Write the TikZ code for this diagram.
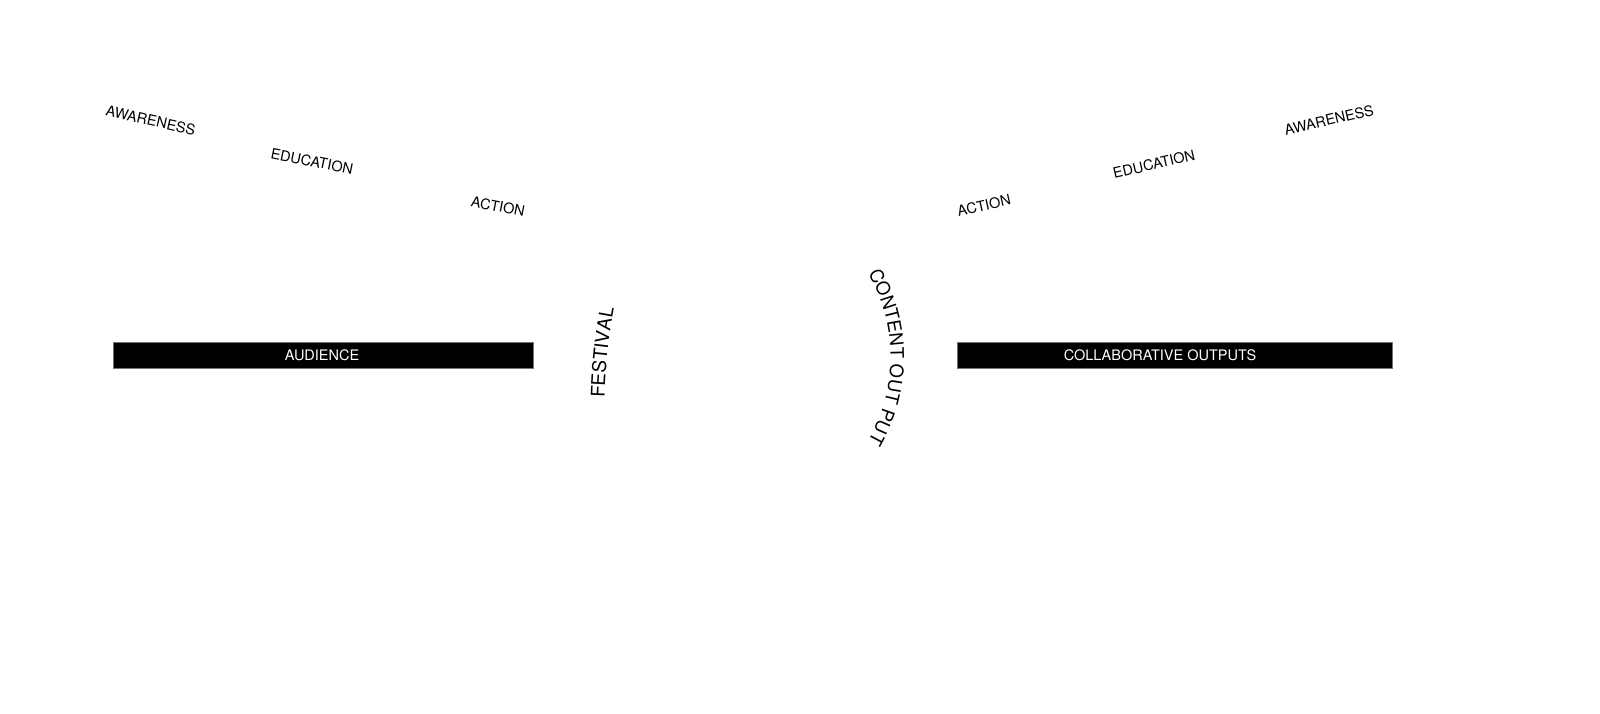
\documentclass[tikz,border=0pt]{standalone}
\usepackage{fontspec}
\setmainfont{TeX Gyre Heros}
\usetikzlibrary{decorations.text}
\newcommand{\wordfont}{\fontsize{14.5}{17}\selectfont}
\newcommand{\arcfontA}{\fontsize{18.5}{22}\selectfont}
\newcommand{\arcfontB}{\fontsize{19}{23}\selectfont}
\tikzset{
  word/.style={font=\wordfont, inner sep=0pt, text=black},
  bar/.style={fill=black, draw=black!55, line width=0.6pt, inner sep=0pt},
  bartext/.style={font=\wordfont, text=white, inner sep=0pt},
}
\begin{document}
\begin{tikzpicture}[x=1pt,y=1pt]
\useasboundingbox (0,0) rectangle (1600,714);
% bars
\draw[bar] (113,346) rectangle (533,372);
\node[bartext] (audience) at (322,359) {AUDIENCE};
\draw[bar] (957,346) rectangle (1392,372);
\node[bartext] (collab) at (1160,359) {COLLABORATIVE OUTPUTS};
% left words
\node[word, rotate=-12.5] (awl) at (150.7,593.7) {AWARENESS};
\node[word, rotate=-11.5] (edl) at (312,552.7) {EDUCATION};
\node[word, rotate=-11] (acl) at (498,507.7) {ACTION};
% right words
\node[word, rotate=12.5] (acr) at (984,508.7) {ACTION};
\node[word, rotate=13] (edr) at (1154,550) {EDUCATION};
\node[word, rotate=13] (awr) at (1329,594) {AWARENESS};
% curved texts
\path[decorate, decoration={text along path, text align=center,
  text={|\arcfontB|FESTIVAL}}]
  (604.47,311.37) arc[start angle=179, end angle=169, radius=570];
\path[decorate, decoration={text along path, text align=center,
  text={|\arcfontA|CONTENT OUT PUT}}]
  (866.58,443.27) arc[start angle=31, end angle=-31, radius=167.5];
\end{tikzpicture}
\end{document}
